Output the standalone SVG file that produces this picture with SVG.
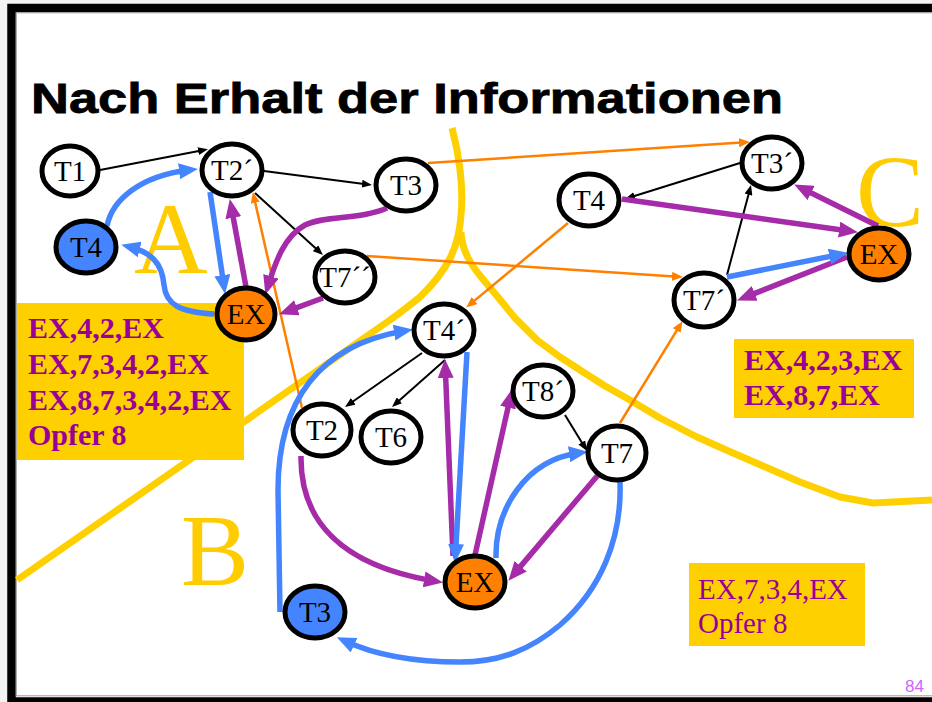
<svg xmlns="http://www.w3.org/2000/svg" width="932" height="702" viewBox="0 0 932 702">
<style>
.node ellipse{stroke:#000;stroke-width:5;fill:#fff}
.node.ex ellipse{fill:#ff8000}
.node.blue ellipse{fill:#4485ff}
.node text{font-family:"Liberation Serif","Times New Roman",serif;font-size:29px;fill:#000;text-anchor:middle}
.thin{fill:none;stroke:#000;stroke-width:2}
.or{fill:none;stroke:#ff8000;stroke-width:2.5}
.pu{fill:none;stroke:#a52ba8;stroke-width:5.5}
.bl{fill:none;stroke:#4485ff;stroke-width:5.5}
.yl{fill:none;stroke:#ffd000;stroke-width:7;stroke-linejoin:round;stroke-linecap:butt}
.box{fill:#ffd000}
.bt{font-family:"Liberation Serif","Times New Roman",serif;font-size:30px;font-weight:bold;fill:#990099}
.rt{font-family:"Liberation Serif","Times New Roman",serif;font-size:29px;fill:#990099}
.big{font-family:"Liberation Serif","Times New Roman",serif;font-size:102px;fill:#ffcc00}
</style>
<defs>
<marker id="mk" markerUnits="userSpaceOnUse" markerWidth="10" markerHeight="8" refX="6" refY="4" orient="auto"><path d="M0,0 L10,4 L0,8 z" fill="#000"/></marker>
<marker id="mo" markerUnits="userSpaceOnUse" markerWidth="11" markerHeight="9" refX="6" refY="4.5" orient="auto"><path d="M0,0 L11,4.5 L0,9 z" fill="#ff8000"/></marker>
<marker id="mp" markerUnits="userSpaceOnUse" markerWidth="19" markerHeight="16" refX="10" refY="8" orient="auto"><path d="M0,0 L19,8 L0,16 z" fill="#a52ba8"/></marker>
<marker id="mb" markerUnits="userSpaceOnUse" markerWidth="19" markerHeight="16" refX="10" refY="8" orient="auto"><path d="M0,0 L19,8 L0,16 z" fill="#4485ff"/></marker>
</defs>
<rect x="0" y="0" width="932" height="702" fill="#f2f2f2"/>
<rect x="11.5" y="8" width="940" height="693.5" fill="#fff" stroke="#000" stroke-width="8.5"/>
<rect x="16.3" y="12.8" width="930" height="683" fill="none" stroke="#999" stroke-width="1"/>
<text x="31" y="112.5" font-family="'Liberation Sans',Arial,sans-serif" font-weight="bold" font-size="43" textLength="752" lengthAdjust="spacingAndGlyphs" fill="#000" stroke="#000" stroke-width="0.8">Nach Erhalt der Informationen</text>
<g id="boundaries">
<path class="yl" d="M452,128 C458,150 464,185 461,215 C459,245 450,268 420,297 C410,305 400,313 390,320 L17,580"/>
<path class="yl" d="M461,232 C462,252 472,266 482,278 L497,296 L515,318 L537,340 L560,357 L580,370 L605,386 L630,400 L660,418 L697,437 L733,453 L770,469 L800,482 L840,497 L873,503 L932,500"/>
</g>
<g id="box-a"><rect class="box" x="17" y="303" width="227" height="157"/>
<text class="bt" x="28" y="338">EX,4,2,EX</text>
<text class="bt" x="28" y="374">EX,7,3,4,2,EX</text>
<text class="bt" x="28" y="410">EX,8,7,3,4,2,EX</text>
<text class="bt" x="28" y="445">Opfer 8</text></g>
<g id="box-c"><rect class="box" x="734" y="339" width="180" height="79"/>
<text class="bt" x="744" y="370">EX,4,2,3,EX</text>
<text class="bt" x="744" y="405">EX,8,7,EX</text></g>
<g id="box-b"><rect class="box" x="689" y="563" width="176" height="83"/>
<text class="rt" x="698" y="599">EX,7,3,4,EX</text>
<text class="rt" x="698" y="633">Opfer 8</text></g>
<g id="labels">
<text class="big" x="134" y="273">A</text>
<text class="big" x="181" y="585">B</text>
<text class="big" x="856" y="226">C</text>
</g>
<g id="connectors">
<path class="thin" marker-end="url(#mk)" d="M100,170 L204,150"/>
<path class="thin" marker-end="url(#mk)" d="M264,171 L368,184.5"/>
<path class="thin" marker-end="url(#mk)" d="M255,193 L320,252.3"/>
<path class="thin" marker-end="url(#mk)" d="M740,163 L628.8,197.8"/>
<path class="thin" marker-end="url(#mk)" d="M727,275 L750,188.9"/>
<path class="thin" marker-end="url(#mk)" d="M422,353 L348.3,404.7"/>
<path class="thin" marker-end="url(#mk)" d="M445,360 L395,404.3"/>
<path class="thin" marker-end="url(#mk)" d="M565,415 L584.9,447.6"/>
<path class="or" marker-end="url(#mo)" d="M428,163 L745,142.3"/>
<path class="or" marker-end="url(#mo)" d="M367,256 L678,276.7"/>
<path class="or" marker-end="url(#mo)" d="M568,223 L470,304.4"/>
<path class="or" marker-end="url(#mo)" d="M302,408 L253.9,196.9"/>
<path class="or" marker-end="url(#mo)" d="M620,423 L679.9,325.4"/>
<path class="pu" marker-end="url(#mp)" d="M246,287 L231.5,207.9"/>
<path class="pu" marker-end="url(#mp)" d="M387,208 C360,220 325,215 305,225 C285,236 276,260 268,286"/>
<path class="pu" marker-end="url(#mp)" d="M323,298 L287.5,311.2"/>
<path class="bl" marker-end="url(#mb)" d="M210,192 L223.8,285.1"/>
<path class="bl" marker-end="url(#mb)" d="M107,226 C112,200 140,176 189,170"/>
<path class="bl" marker-end="url(#mb)" d="M214,314 C180,312 166,305 164,285 C162,262 150,252 130,247"/>
<path class="pu" marker-end="url(#mp)" d="M622,199 L849,231"/>
<path class="pu" marker-end="url(#mp)" d="M878,226 L802.2,188.5"/>
<path class="pu" marker-end="url(#mp)" d="M847,257 L745.4,297.1"/>
<path class="bl" marker-end="url(#mb)" d="M727,277 L839.2,254.6"/>
<path class="pu" marker-end="url(#mp)" d="M301,456 C300,520 340,565 434,581"/>
<path class="pu" marker-end="url(#mp)" d="M453,556 L445.3,368"/>
<path class="pu" marker-end="url(#mp)" d="M475,555 L510.2,397.8"/>
<path class="pu" marker-end="url(#mp)" d="M598,475 L514.2,573.9"/>
<path class="bl" marker-end="url(#mb)" d="M467,352 L455.5,554"/>
<path class="bl" marker-end="url(#mb)" d="M496,558 C495,510 525,460 579,453"/>
<path class="bl" marker-end="url(#mb)" d="M280,612 L278,490 C278,400 320,345 404,331"/>
<path class="bl" marker-end="url(#mb)" d="M620,482 C622,540 600,590 560,625 C530,650 500,662 460,662 C410,662 375,655 345,641"/>
</g>
<g id="n-t1" class="node"><ellipse cx="70" cy="171" rx="28" ry="25"/><text x="70" y="181">T1</text></g>
<g id="n-t2a" class="node"><ellipse cx="232" cy="170" rx="30" ry="26"/><text x="232" y="180">T2´</text></g>
<g id="n-t3a" class="node"><ellipse cx="406" cy="185" rx="30" ry="26"/><text x="406" y="195">T3</text></g>
<g id="n-t4a" class="node blue"><ellipse cx="86" cy="247" rx="30" ry="26"/><text x="86" y="257">T4</text></g>
<g id="n-exa" class="node ex"><ellipse cx="246" cy="314" rx="29" ry="26"/><text x="246" y="324">EX</text></g>
<g id="n-t7a" class="node"><ellipse cx="345" cy="277" rx="30" ry="26"/><text x="345" y="287">T7´´</text></g>
<g id="n-t4b" class="node"><ellipse cx="444" cy="330" rx="30" ry="26"/><text x="444" y="340">T4´</text></g>
<g id="n-t2b" class="node"><ellipse cx="322" cy="430" rx="29" ry="26"/><text x="322" y="440">T2</text></g>
<g id="n-t6b" class="node"><ellipse cx="391" cy="437" rx="30" ry="26"/><text x="391" y="447">T6</text></g>
<g id="n-t8b" class="node"><ellipse cx="543" cy="391" rx="30" ry="26"/><text x="543" y="401">T8´</text></g>
<g id="n-t7b" class="node"><ellipse cx="617" cy="453" rx="29" ry="27"/><text x="617" y="463">T7</text></g>
<g id="n-exb" class="node ex"><ellipse cx="475" cy="582" rx="30" ry="26"/><text x="475" y="592">EX</text></g>
<g id="n-t3b" class="node blue"><ellipse cx="315" cy="612" rx="30" ry="26"/><text x="315" y="622">T3</text></g>
<g id="n-t3c" class="node"><ellipse cx="772" cy="163" rx="30" ry="26"/><text x="772" y="173">T3´</text></g>
<g id="n-t4c" class="node"><ellipse cx="589" cy="200" rx="30" ry="26"/><text x="589" y="210">T4</text></g>
<g id="n-exc" class="node ex"><ellipse cx="879" cy="254" rx="30" ry="26"/><text x="879" y="264">EX</text></g>
<g id="n-t7c" class="node"><ellipse cx="704" cy="300" rx="30" ry="27"/><text x="704" y="310">T7´</text></g>
<text x="905" y="692" font-family="'Liberation Sans',Arial,sans-serif" font-size="17" fill="#cc66ff">84</text>
</svg>
